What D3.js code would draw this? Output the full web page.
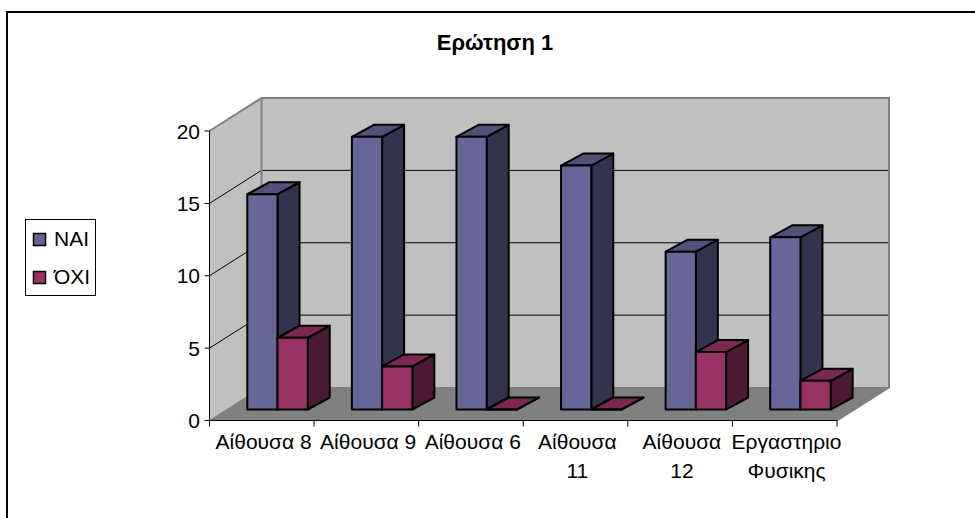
<!DOCTYPE html>
<html>
<head>
<meta charset="utf-8">
<script src="https://cdn.jsdelivr.net/npm/d3@7"></script>
<style>
html, body { margin: 0; padding: 0; background: #fff; }
svg { display: block; font-family: "Liberation Sans", Arial, sans-serif; }
</style>
</head>
<body>
<div id="chart"></div>
<script>
const title = "Ερώτηση 1";
const categories = [
  ["Αίθουσα 8"],
  ["Αίθουσα 9"],
  ["Αίθουσα 6"],
  ["Αίθουσα", "11"],
  ["Αίθουσα", "12"],
  ["Εργαστηριο", "Φυσικης"]
];
const seriesNames = ["ΝΑΙ", "ΌΧΙ"];
const naiValues = [15, 19, 19, 17, 11, 12];
const oxiValues = [5, 3, 0, 0, 4, 2];
const yTicks = [0, 5, 10, 15, 20];

const palette = {
  "ΝΑΙ": { front: "#666699", top: "#51517a", side: "#33334d" },
  "ΌΧΙ": { front: "#993366", top: "#7a2951", side: "#4d1a33" }
};

const width = 975, height = 518;
const svg = d3.select("#chart").append("svg")
  .attr("width", width).attr("height", height);

// Oblique projection: category, value and depth map to the page
const xScale = d3.scaleLinear().domain([0, 6]).range([209.5, 837]);
const yScale = d3.scaleLinear().domain([0, 20]).range([420.5, 131]);
const zX = d3.scaleLinear().domain([0, 1]).range([0, 52]);
const zY = d3.scaleLinear().domain([0, 1]).range([0, -33]);
const pt = (c, v, z) => [xScale(c) + zX(z), yScale(v) + zY(z)];
const poly = pts => pts.map(p => p.join(",")).join(" ");

// Bars stand part-way into the floor and have their own projection
const barHeight = d3.scaleLinear().domain([0, 20]).range([409.5, 122.5]);
const barZX = d3.scaleLinear().domain([0, 1]).range([17.3, 39.3]);
const barZY = d3.scaleLinear().domain([0, 1]).range([0, -12]);
const barPt = (c, v, z) => [xScale(c) + barZX(z), barHeight(v) + barZY(z)];

// Chart frame
svg.append("rect")
  .attr("x", 7).attr("y", 12).attr("width", 975).attr("height", 600)
  .attr("fill", "#fff").attr("stroke", "#000").attr("stroke-width", 2);

// Walls and floor
const walls = svg.append("g");
walls.append("polygon")
  .attr("points", poly([pt(0, 0, 1), pt(6, 0, 1), pt(6, 20, 1), pt(0, 20, 1)]))
  .attr("fill", "#c0c0c0");
walls.append("polygon")
  .attr("points", poly([pt(0, 0, 0), pt(0, 0, 1), pt(0, 20, 1), pt(0, 20, 0)]))
  .attr("fill", "#c0c0c0");
walls.append("polygon")
  .attr("points", poly([pt(0, 0, 0), pt(6, 0, 0), pt(6, 0, 1), pt(0, 0, 1)]))
  .attr("fill", "#808080");

// Gridlines run along the side wall and across the back wall
const gridValues = yTicks.filter(v => v > 0 && v < 20);
const gridLine = d3.line();
walls.selectAll("path.grid").data(gridValues).join("path")
  .attr("class", "grid")
  .attr("d", v => gridLine([pt(0, v, 0), pt(0, v, 1), pt(6, v, 1)]))
  .attr("fill", "none").attr("stroke", "#000").attr("stroke-width", 1);

// Grey outline of the walls
walls.append("path")
  .attr("d", gridLine([pt(0, 20, 0), pt(0, 20, 1), pt(6, 20, 1), pt(6, 0, 1), pt(6, 0, 0)]))
  .attr("fill", "none").attr("stroke", "#808080").attr("stroke-width", 2);
walls.append("path")
  .attr("d", gridLine([pt(0, 0, 1), pt(0, 20, 1)]))
  .attr("fill", "none").attr("stroke", "#808080").attr("stroke-width", 2);
walls.append("path")
  .attr("d", gridLine([pt(0, 0, 0), pt(0, 0, 1), pt(6, 0, 1)]))
  .attr("fill", "none").attr("stroke", "#808080").attr("stroke-width", 1);

// Three-faced bars, drawn series by series so the nearer faces overlap correctly
const gap = 0.196, barW = 0.289;
const rows = [];
categories.forEach((_, i) => {
  rows.push({ name: seriesNames[0], c0: i + gap, value: naiValues[i] });
  rows.push({ name: seriesNames[1], c0: i + gap + barW, value: oxiValues[i] });
});
const bars = svg.append("g").selectAll("g").data(rows).join("g")
  .attr("stroke", "#000").attr("stroke-width", 2).attr("stroke-linejoin", "round");
bars.append("polygon")
  .attr("fill", d => palette[d.name].side)
  .attr("points", d => poly([
    barPt(d.c0 + barW, 0, 0), barPt(d.c0 + barW, 0, 1),
    barPt(d.c0 + barW, d.value, 1), barPt(d.c0 + barW, d.value, 0)]));
bars.append("polygon")
  .attr("fill", d => palette[d.name].top)
  .attr("points", d => poly([
    barPt(d.c0, d.value, 0), barPt(d.c0 + barW, d.value, 0),
    barPt(d.c0 + barW, d.value, 1), barPt(d.c0, d.value, 1)]));
bars.append("polygon")
  .attr("fill", d => palette[d.name].front)
  .attr("points", d => poly([
    barPt(d.c0, 0, 0), barPt(d.c0 + barW, 0, 0),
    barPt(d.c0 + barW, d.value, 0), barPt(d.c0, d.value, 0)]));

// Value axis on the front edge
const axisY = svg.append("g");
axisY.append("line")
  .attr("x1", xScale(0)).attr("x2", xScale(0))
  .attr("y1", yScale(0)).attr("y2", yScale(20))
  .attr("stroke", "#000").attr("stroke-width", 1);
const yTick = axisY.selectAll("g").data(yTicks).join("g");
yTick.append("line")
  .attr("x1", xScale(0) - 5).attr("x2", xScale(0))
  .attr("y1", d => yScale(d)).attr("y2", d => yScale(d))
  .attr("stroke", "#000");
yTick.append("text")
  .attr("x", xScale(0) - 9.5).attr("y", d => yScale(d) + 7.5)
  .attr("text-anchor", "end").attr("font-size", 21).attr("fill", "#000")
  .text(d => d);

// Category axis
const axisX = svg.append("g");
axisX.append("line")
  .attr("x1", xScale(0)).attr("x2", xScale(6))
  .attr("y1", yScale(0)).attr("y2", yScale(0))
  .attr("stroke", "#000");
axisX.selectAll("line.tick").data(d3.range(0, 7)).join("line")
  .attr("class", "tick")
  .attr("x1", d => xScale(d)).attr("x2", d => xScale(d))
  .attr("y1", yScale(0)).attr("y2", yScale(0) + 6)
  .attr("stroke", "#000");
axisX.selectAll("text").data(categories).join("text")
  .attr("text-anchor", "middle").attr("font-size", 21).attr("fill", "#000")
  .attr("transform", (d, i) => `translate(${xScale(i + 0.5) + 1.8},0)`)
  .selectAll("tspan").data(d => d).join("tspan")
  .attr("x", 0).attr("y", (d, i) => 448.5 + i * 29.5)
  .text(d => d);

// Title
svg.append("text")
  .attr("x", 495).attr("y", 49.5)
  .attr("text-anchor", "middle").attr("font-size", 22).attr("font-weight", "bold")
  .text(title);

// Legend
const legend = svg.append("g");
legend.append("rect")
  .attr("x", 25.5).attr("y", 219.5).attr("width", 70).attr("height", 76)
  .attr("fill", "#fff").attr("stroke", "#000");
const item = legend.selectAll("g").data(seriesNames).join("g")
  .attr("transform", (d, i) => `translate(0,${i * 38})`);
item.append("rect")
  .attr("x", 33.5).attr("y", 233.5).attr("width", 12).attr("height", 12)
  .attr("fill", d => palette[d].front).attr("stroke", "#000").attr("stroke-width", 1.5);
item.append("text")
  .attr("x", 54).attr("y", 246).attr("font-size", 21).attr("fill", "#000")
  .text(d => d);
</script>
</body>
</html>
